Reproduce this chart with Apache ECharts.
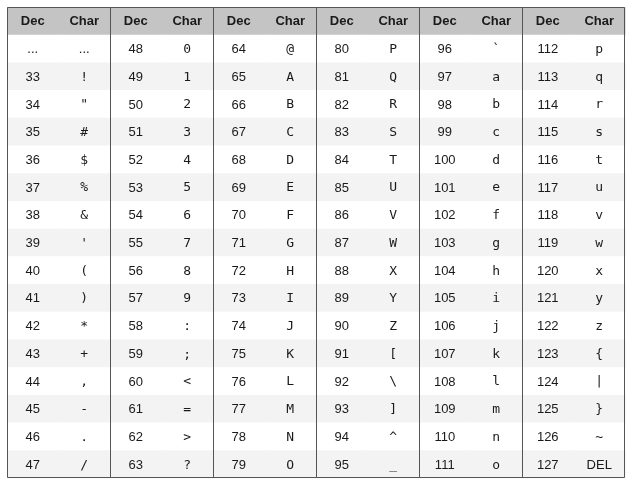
<!DOCTYPE html>
<html><head><meta charset="utf-8">
<script src="https://cdn.jsdelivr.net/npm/echarts@6/dist/echarts.min.js"></script>
<style>html,body{margin:0;padding:0;background:#fff}#c{width:632px;height:485px}</style>
</head><body><div id="c"></div>
<script>
const headers = ["Dec","Char"];
const decGroups = [
 ["...",33,34,35,36,37,38,39,40,41,42,43,44,45,46,47],
 [48,49,50,51,52,53,54,55,56,57,58,59,60,61,62,63],
 [64,65,66,67,68,69,70,71,72,73,74,75,76,77,78,79],
 [80,81,82,83,84,85,86,87,88,89,90,91,92,93,94,95],
 [96,97,98,99,100,101,102,103,104,105,106,107,108,109,110,111],
 [112,113,114,115,116,117,118,119,120,121,122,123,124,125,126,127]
];
const charGroups = [
 ["...","!","\"","#","$","%","&","'","(",")","*","+",",","-",".","/"],
 ["0","1","2","3","4","5","6","7","8","9",":",";","<","=",">","?"],
 ["@","A","B","C","D","E","F","G","H","I","J","K","L","M","N","O"],
 ["P","Q","R","S","T","U","V","W","X","Y","Z","[","\\","]","^","_"],
 ["`","a","b","c","d","e","f","g","h","i","j","k","l","m","n","o"],
 ["p","q","r","s","t","u","v","w","x","y","z","{","|","}","~","DEL"]
];
const nCols = 12, nRows = 17;
const data = [];
for (let g = 0; g < 6; g++) {
  data.push([2*g, 0, headers[0], 'h']);
  data.push([2*g+1, 0, headers[1], 'h']);
  for (let r = 0; r < 16; r++) {
    data.push([2*g, r+1, String(decGroups[g][r]), 'd']);
    const ch = charGroups[g][r];
    data.push([2*g+1, r+1, ch, (ch === 'DEL' || ch === '...') ? 'd' : 'c']);
  }
}
const chart = echarts.init(document.getElementById('c'));
chart.setOption({
  animation:false,
  grid:{left:7,right:7,top:7,bottom:7},
  xAxis:{type:'category',data:[...Array(nCols).keys()],show:false},
  yAxis:{type:'category',data:[...Array(nRows).keys()],inverse:true,show:false},
  series:[{
    type:'custom',
    data:data,
    renderItem:function(params, api){
      const c = api.value(0), r = api.value(1);
      const t = data[params.dataIndex][2], kind = data[params.dataIndex][3];
      const p = api.coord([c, r]); const s = api.size([1,1]);
      const x0 = p[0]-s[0]/2, y0 = p[1]-s[1]/2;
      const fill = r === 0 ? '#c4c4c4' : (r % 2 === 0 ? '#f3f3f3' : '#ffffff');
      const children = [
        {type:'rect',shape:{x:x0,y:y0,width:s[0]+0.5,height:s[1]+0.5},style:{fill:fill}},
        {type:'text',style:{text:t,x:p[0],y:p[1]+1,align:'center',verticalAlign:'middle',
          fill:'#1a1a1a',
          font: kind==='h' ? 'bold 13px "Liberation Sans", Arial, sans-serif'
              : kind==='c' ? '13px "DejaVu Sans Mono", monospace'
              : '13px "Liberation Sans", Arial, sans-serif'}}
      ];
      if (c % 2 === 0 && c > 0 && r === 0) {
        const yb = api.coord([c, nRows-1])[1] + s[1]/2;
        children.push({type:'line',shape:{x1:Math.round(x0)+0.5,y1:y0,x2:Math.round(x0)+0.5,y2:yb},style:{stroke:'#555',lineWidth:1},z2:10});
      }
      if (c === 0 && r === 0) {
        const pe = api.coord([nCols-1, nRows-1]);
        children.push({type:'rect',shape:{x:Math.round(x0)+0.5,y:Math.round(y0)+0.5,width:Math.round(pe[0]+s[0]/2-x0)-1,height:Math.round(pe[1]+s[1]/2-y0)-1},style:{fill:null,stroke:'#555',lineWidth:1},z2:10});
      }
      return {type:'group',children:children};
    }
  }]
});
</script></body></html>
